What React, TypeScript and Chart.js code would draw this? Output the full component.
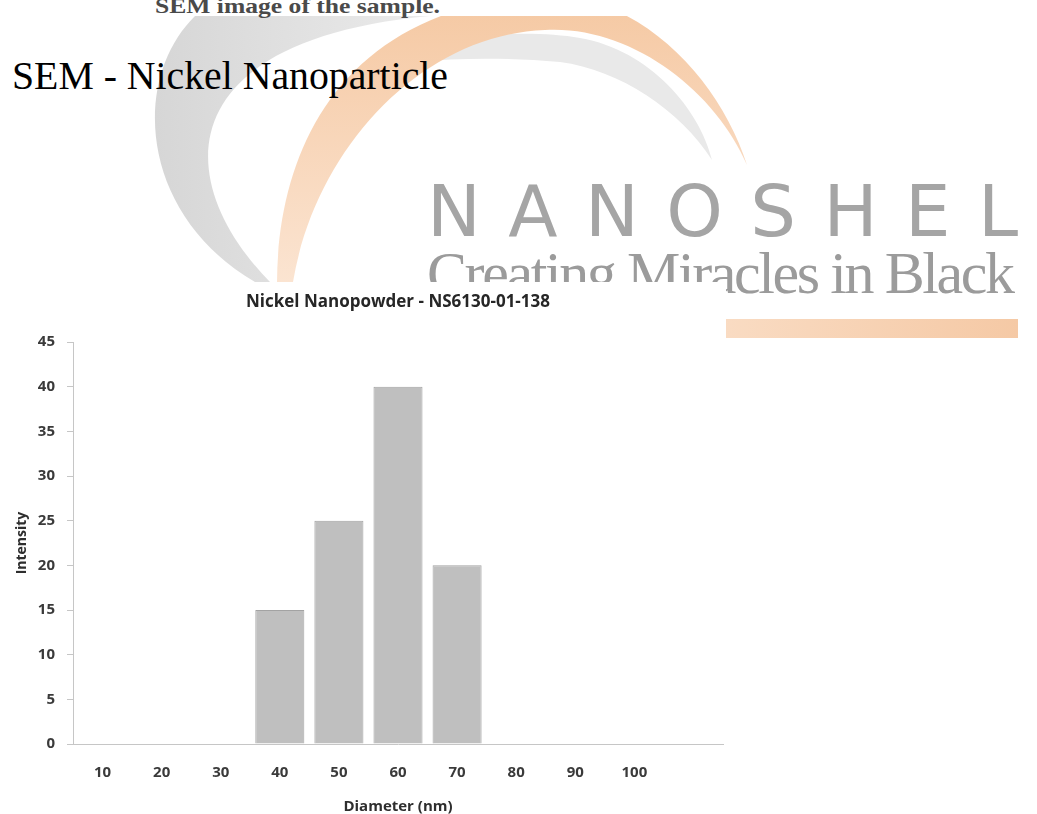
import React, { useEffect, useRef } from "react";
import { Chart, registerables } from "chart.js";

Chart.register(...registerables);

// ---- data ----
const categories = ["10", "20", "30", "40", "50", "60", "70", "80", "90", "100", ""];
const intensity = [0, 0, 0, 15, 25, 40, 20, 0, 0, 0, 0];
const yMin = 0;
const yMax = 45;
const yStep = 5;
const chartTitle = "Nickel Nanopowder - NS6130-01-138";
const xTitle = "Diameter (nm)";
const yTitle = "Intensity";
const pageHeading = "SEM - Nickel Nanoparticle";
const topCaption = "SEM image of the sample.";
const brandName = "NANOSHEL";
const brandTagline = "Creating Miracles in Black";

const SANS = "'Open Sans', 'DejaVu Sans', sans-serif";
const SERIF = "'Liberation Serif', 'DejaVu Serif', serif";

export default function App() {
  const ref = useRef<HTMLCanvasElement>(null);

  useEffect(() => {
    document.body.style.margin = "0";
    document.body.style.overflow = "hidden";
    const canvas = ref.current;
    if (!canvas) return;
    const chart = new Chart(canvas, {
      type: "bar",
      data: {
        labels: categories,
        datasets: [
          {
            data: intensity,
            backgroundColor: "#bfbfbf",
            borderColor: "#a3a3a3",
            borderWidth: 1,
            barPercentage: 0.83,
            categoryPercentage: 1,
          },
        ],
      },
      options: {
        animation: false,
        responsive: false,
        maintainAspectRatio: false,
        devicePixelRatio: 1,
        layout: { padding: { left: 10, right: 3, top: 0, bottom: 0 } },
        plugins: {
          legend: { display: false },
          tooltip: { enabled: false },
          title: {
            display: true,
            text: chartTitle,
            fullSize: false,
            color: "#262626",
            font: { family: SANS, size: 17, weight: "bold", lineHeight: 1.2 },
            padding: { top: 9.8, bottom: 29.8 },
          },
        },
        scales: {
          x: {
            grid: { display: false, drawTicks: false },
            border: { display: true, color: "#c6c6c6", width: 1 },
            ticks: {
              color: "#3a3a3a",
              font: { family: SANS, size: 15, weight: "bold" },
              padding: 20,
              maxRotation: 0,
              autoSkip: false,
            },
            title: {
              display: true,
              text: xTitle,
              color: "#2e2e2e",
              font: { family: SANS, size: 15, weight: "bold", lineHeight: 1 },
              padding: { top: 0, bottom: 0 },
            },
            afterFit: (s: any) => {
              s.height = 70;
            },
          },
          y: {
            min: yMin,
            max: yMax,
            ticks: {
              stepSize: yStep,
              color: "#3a3a3a",
              font: { family: SANS, size: 15, weight: "bold" },
              padding: 12,
            },
            grid: {
              drawOnChartArea: false,
              drawTicks: true,
              tickLength: 6,
              color: "#c6c6c6",
            },
            border: { display: true, color: "#c6c6c6", width: 1 },
            title: {
              display: true,
              text: yTitle,
              color: "#2e2e2e",
              font: { family: SANS, size: 14, weight: "bold", lineHeight: 1.2 },
              padding: { top: 4, bottom: 4 },
            },
            afterFit: (s: any) => {
              s.width = 63;
            },
          },
        },
      },
    });
    return () => chart.destroy();
  }, []);

  return (
    <div
      style={{
        position: "absolute",
        left: 0,
        top: 0,
        width: 1037,
        height: 814,
        background: "#ffffff",
        overflow: "hidden",
      }}
    >
      <svg
        width={1037}
        height={814}
        style={{ position: "absolute", left: 0, top: 0 }}
      >
        <defs>
          <clipPath id="wmClip">
            <rect x={0} y={16} width={1037} height={798} />
          </clipPath>
          <linearGradient id="grayArc" x1="0" y1="0" x2="1" y2="0">
            <stop offset="0" stopColor="#d6d6d6" />
            <stop offset="1" stopColor="#ebebeb" />
          </linearGradient>
          <linearGradient id="orangeArc" x1="0" y1="0" x2="0" y2="1">
            <stop offset="0" stopColor="#f5c8a2" />
            <stop offset="1" stopColor="#fbe4d1" />
          </linearGradient>
          <linearGradient id="orangeBar" x1="0" y1="0" x2="1" y2="0">
            <stop offset="0" stopColor="#fbe3cf" />
            <stop offset="1" stopColor="#f5c9a5" />
          </linearGradient>
        </defs>
        <g clipPath="url(#wmClip)">
          <path
            d="M 255,282 C 140,215 130,80 195,16 L 430,16 C 170,40 170,180 270,282 Z"
            fill="url(#grayArc)"
          />
          <path
            d="M 360,70 C 420,35 520,28 580,38 C 650,50 700,110 712,160 C 680,110 620,70 560,62 C 480,55 410,60 360,70 Z"
            fill="#e9e9e9"
          />
          <path
            d="M 277,282 C 278,150 340,10 540,-5 C 640,-8 720,80 747,165 C 715,90 630,25 545,30 C 420,35 315,150 293,282 Z"
            fill="url(#orangeArc)"
          />
          <text
            x={427}
            y={236}
            fontFamily="'DejaVu Sans', sans-serif"
            fontSize={72}
            fill="#a5a5a5"
            textLength={591}
            lengthAdjust="spacing"
          >
            {brandName}
          </text>
          <text
            x={427}
            y={293}
            fontFamily={SERIF}
            fontSize={60}
            fill="#9b9b9b"
            textLength={588}
            lengthAdjust="spacing"
          >
            {brandTagline}
          </text>
          <rect x={600} y={319} width={418} height={19} fill="url(#orangeBar)" />
        </g>
        <text
          x={155}
          y={13}
          fontFamily={SERIF}
          fontWeight="bold"
          fontSize={22}
          fill="#4a4a4a"
          textLength={285}
          lengthAdjust="spacingAndGlyphs"
        >
          {topCaption}
        </text>
        <text
          x={12}
          y={89}
          fontFamily={SERIF}
          fontSize={41}
          fill="#000000"
          textLength={436}
          lengthAdjust="spacingAndGlyphs"
        >
          {pageHeading}
        </text>
      </svg>
      <div
        style={{
          position: "absolute",
          left: 0,
          top: 282,
          width: 726,
          height: 532,
          background: "#ffffff",
        }}
      >
        <canvas
          ref={ref}
          width={726}
          height={532}
          style={{ display: "block", width: 726, height: 532 }}
        />
      </div>
    </div>
  );
}
